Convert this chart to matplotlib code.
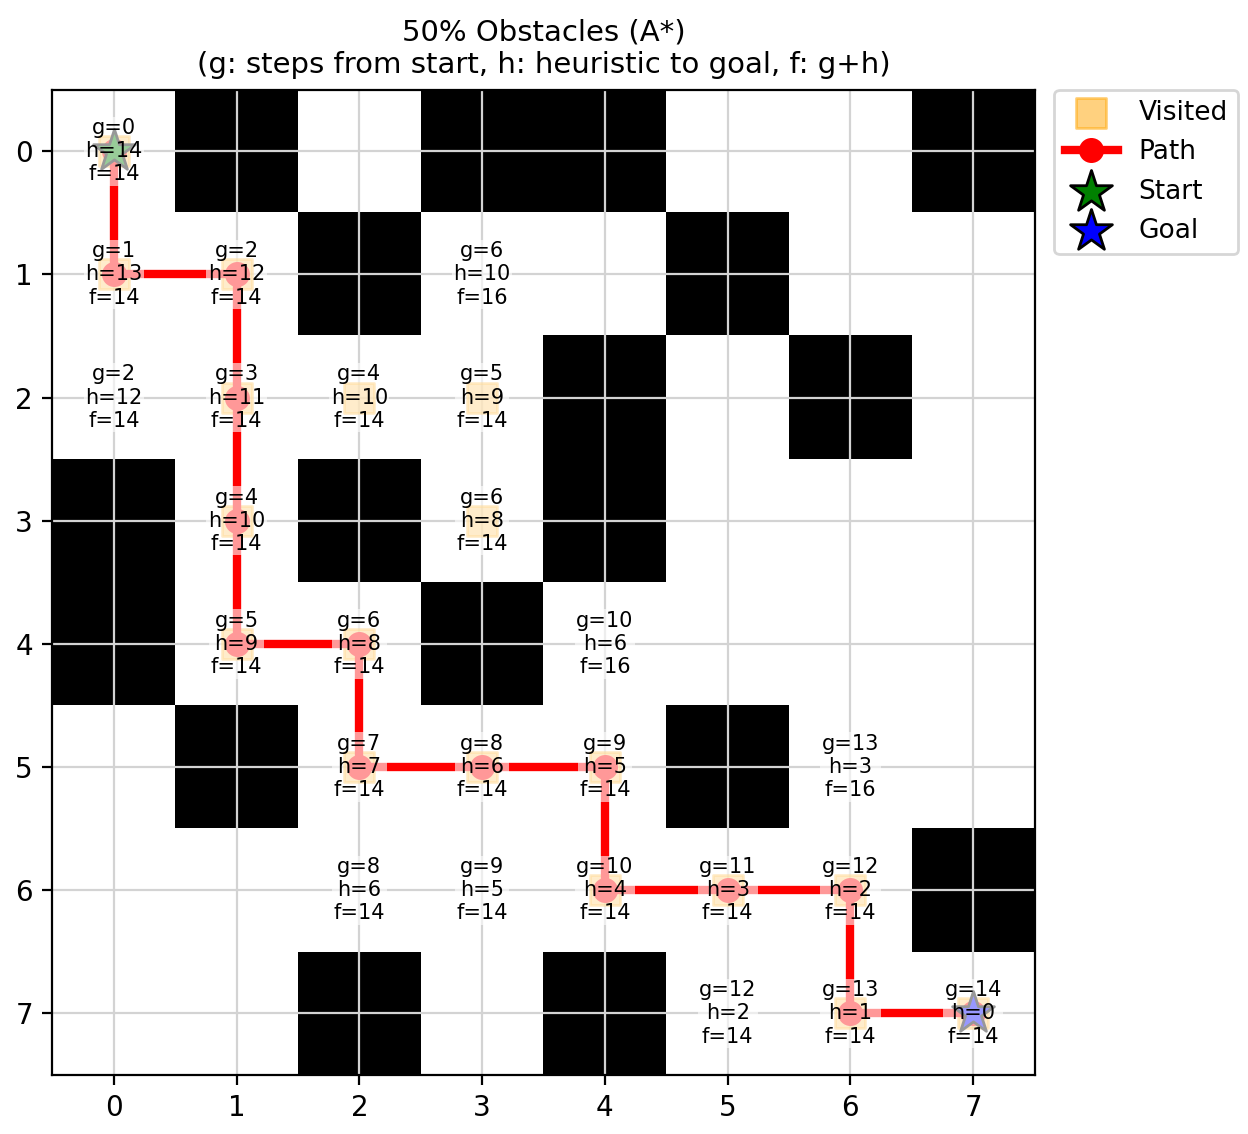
import numpy as np
import matplotlib.pyplot as plt

obstacles = [(0, 1), (0, 3), (0, 4), (0, 7), (1, 2), (1, 5), (2, 4), (2, 6),
             (3, 0), (3, 2), (3, 4), (4, 0), (4, 3), (5, 1), (5, 5), (6, 7),
             (7, 2), (7, 4)]
# (row, col, g)
scored = [(0, 0, 0), (1, 0, 1), (1, 1, 2), (1, 3, 6), (2, 0, 2), (2, 1, 3),
          (2, 2, 4), (2, 3, 5), (3, 1, 4), (3, 3, 6), (4, 1, 5), (4, 2, 6),
          (4, 4, 10), (5, 2, 7), (5, 3, 8), (5, 4, 9), (5, 6, 13), (6, 2, 8),
          (6, 3, 9), (6, 4, 10), (6, 5, 11), (6, 6, 12), (7, 5, 12), (7, 6, 13),
          (7, 7, 14)]
path = [(0, 0), (1, 0), (1, 1), (2, 1), (3, 1), (4, 1), (4, 2), (5, 2), (5, 3),
        (5, 4), (6, 4), (6, 5), (6, 6), (7, 6), (7, 7)]
visited = path + [(2, 2), (2, 3), (3, 3)]
start = (0, 0)
goal = (7, 7)

grid = np.zeros((8, 8))
for r, c in obstacles:
    grid[r, c] = 1

fig = plt.figure(figsize=(6.24, 5.67))
ax = fig.add_axes([0.042, 0.052, 0.787, 0.869])
ax.imshow(grid, cmap='binary', vmin=0, vmax=1, aspect='auto')
ax.set_xticks(range(8))
ax.set_yticks(range(8))
ax.grid(True, color='lightgray', linewidth=0.8)

vr = [p[0] for p in visited]
vc = [p[1] for p in visited]
ax.scatter(vc, vr, marker='s', s=120, color='orange', alpha=0.5, label='Visited', zorder=2)
pr = [p[0] for p in path]
pc = [p[1] for p in path]
ax.plot(pc, pr, color='red', linewidth=3, marker='o', markersize=8, label='Path', zorder=3)
ax.scatter(start[1], start[0], marker='*', s=250, color='green', edgecolors='black', label='Start', zorder=4)
ax.scatter(goal[1], goal[0], marker='*', s=250, color='blue', edgecolors='black', label='Goal', zorder=4)

for r, c, g in scored:
    h = abs(goal[0] - r) + abs(goal[1] - c)
    ax.text(c, r, f'g={g}\nh={h}\nf={g + h}', ha='center', va='center', fontsize=7.5,
            zorder=5, bbox=dict(facecolor='white', edgecolor='none', alpha=0.6, pad=0.5))

ax.set_xlim(-0.5, 7.5)
ax.set_ylim(7.5, -0.5)
ax.set_title('50% Obstacles (A*)\n(g: steps from start, h: heuristic to goal, f: g+h)', fontsize=10.5)
ax.legend(loc='upper left', bbox_to_anchor=(1.02, 1.0), borderaxespad=0, fontsize=9.5)
plt.savefig('out.png', dpi=200)
